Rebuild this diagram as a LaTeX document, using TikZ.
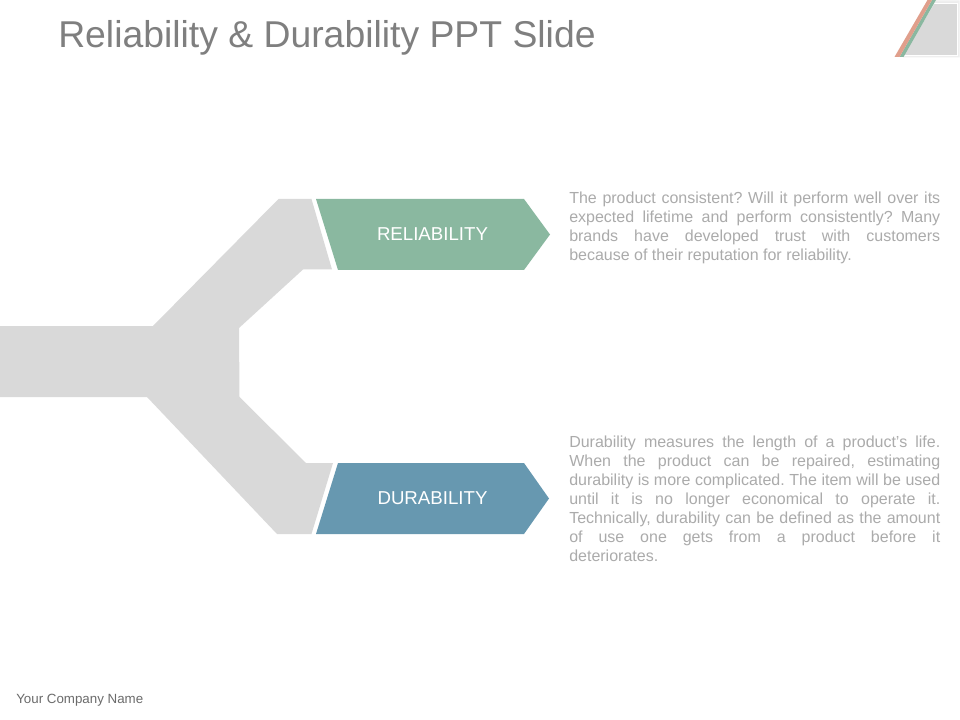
\documentclass[tikz,border=0pt]{standalone}
\usepackage{fontspec}
\setmainfont{Liberation Sans}
\frenchspacing
\definecolor{shapegray}{HTML}{D9D9D9}
\definecolor{palegray}{HTML}{EFEFEF}
\definecolor{relgreen}{HTML}{8AB8A0}
\definecolor{durblue}{HTML}{6798B0}
\definecolor{salmon}{HTML}{E09F8C}
\definecolor{titlegray}{HTML}{7F7F7F}
\definecolor{bodygray}{HTML}{ABABAB}
\definecolor{footgray}{HTML}{6B6B6B}
\newcommand\jline[1]{\hbox to 278.25pt{#1}}
\tikzset{
  bodytext/.style={anchor=north west,inner sep=0pt,text=bodygray,font=\fontsize{12}{14.25}\selectfont,align=left},
  arrowlabel/.style={text=white,font=\fontsize{14}{16}\selectfont,inner sep=0pt},
}
\begin{document}
\begin{tikzpicture}[x=0.75pt,y=-0.75pt]
\useasboundingbox (0,0) rectangle (960,720);
\fill[white] (0,0) rectangle (960,720);
% corner ornament
\fill[palegray] (903,57.5) -- (936,0.5) -- (959.5,0.5) -- (959.5,57.5) -- cycle;
\fill[shapegray] (903,56) -- (935,3) -- (957,3) -- (957,55) -- cycle;
\draw[white,line width=0.9pt] (933,3.5) -- (957.5,3.5) -- (957.5,55.5) -- (903,55.5);
\fill[relgreen] (899.5,57) -- (932,0) -- (936,0) -- (903.5,57) -- cycle;
\fill[salmon] (894.5,57) -- (927.5,0) -- (932,0) -- (899.5,57) -- cycle;
% forked band
\fill[shapegray] (0,326) -- (153,326) -- (278.5,199) -- (311.5,199) -- (332,269.5) -- (303,269.5) -- (239,328) -- (239.5,397) -- (306,463) -- (333,463) -- (311.5,534) -- (277,534) -- (147,397) -- (0,397) -- cycle;
% arrows
\fill[relgreen] (316,199) -- (524,199) -- (550,234.5) -- (524,270) -- (338,270) -- cycle;
\fill[durblue] (338,463) -- (524,463) -- (549,498.5) -- (524,534) -- (316,534) -- cycle;
\node[arrowlabel] (rel) at (432.5,234) {RELIABILITY};
\node[arrowlabel] (dur) at (432.5,498) {DURABILITY};
% texts
\node[anchor=base west,inner sep=0pt,text=titlegray,font=\fontsize{28}{32}\selectfont] (title) at (58,47.4) {Reliability \& Durability PPT Slide};
\node[bodytext] (reltext) at (569,191.4) {\jline{The product consistent? Will it perform well over its}\\
\jline{expected lifetime and perform consistently? Many}\\
\jline{brands have developed trust with customers}\\
because of their reputation for reliability.};
\node[bodytext] (durtext) at (569,435.9) {\jline{Durability measures the length of a product's life.}\\
\jline{When the product can be repaired, estimating}\\
\jline{durability is more complicated. The item will be used}\\
\jline{until it is no longer economical to operate it.}\\
\jline{Technically, durability can be defined as the amount}\\
\jline{of use one gets from a product before it}\\
deteriorates.};
\node[anchor=base west,inner sep=0pt,text=footgray,font=\fontsize{10}{12}\selectfont] (foot) at (16,703) {Your Company Name};
\end{tikzpicture}
\end{document}
